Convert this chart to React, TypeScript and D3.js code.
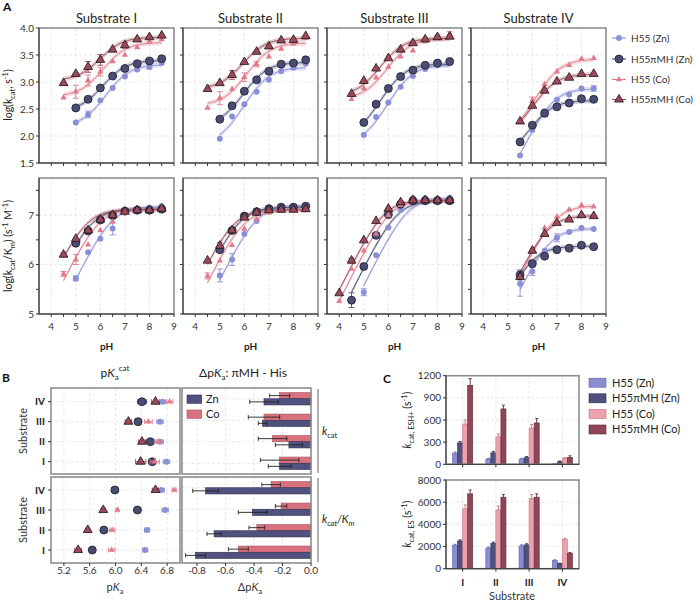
import React from "react";
import * as d3 from "d3";

const substrates = ["I", "II", "III", "IV"];
const seriesNames = ["H55 (Zn)", "H55πMH (Zn)", "H55 (Co)", "H55πMH (Co)"];
const pHs = [4, 4.5, 5, 5.5, 6, 6.5, 7, 7.5, 8, 8.5];
const N = null;

// log(kcat) per substrate, per series, at pHs
const logKcatData = [
  [
    [N, N, 2.25, 2.4, 2.66, 2.89, 3.1, 3.23, 3.28, 3.35],
    [N, N, 2.52, 2.68, 2.89, 3.11, 3.25, 3.34, 3.39, 3.43],
    [N, 2.71, 2.82, 3.03, 3.19, 3.38, 3.5, 3.64, 3.75, 3.79],
    [N, 2.98, 3.15, 3.28, 3.41, 3.6, 3.68, 3.79, 3.83, 3.86],
  ],
  [
    [N, N, 1.95, 2.36, 2.59, 2.82, 3.04, 3.2, 3.27, 3.34],
    [N, N, 2.31, 2.56, 2.83, 3.04, 3.2, 3.33, 3.35, 3.41],
    [N, 2.52, 2.7, 2.87, 3.09, 3.33, 3.47, 3.61, 3.71, 3.81],
    [N, 2.87, 2.98, 3.13, 3.37, 3.56, 3.66, 3.77, 3.78, 3.85],
  ],
  [
    [N, N, 2.02, 2.35, 2.62, 2.91, 3.11, 3.24, 3.31, 3.35],
    [N, N, 2.25, 2.59, 2.88, 3.1, 3.22, 3.31, 3.35, 3.38],
    [N, 2.68, 2.88, 3.08, 3.28, 3.47, 3.58, 3.75, 3.85, 3.89],
    [N, 2.78, 3.02, 3.25, 3.44, 3.6, 3.72, 3.79, 3.83, 3.84],
  ],
  [
    [N, N, N, 1.64, 2.11, 2.46, 2.67, 2.77, 2.88, 2.88],
    [N, N, N, 1.89, 2.2, 2.42, 2.54, 2.61, 2.69, 2.68],
    [N, N, N, 2.27, 2.67, 2.96, 3.19, 3.31, 3.43, 3.44],
    [N, N, N, 2.27, 2.56, 2.84, 3.01, 3.08, 3.15, 3.15],
  ],
];

// log(kcat/Km)
const logKcatKmData = [
  [
    [N, N, 5.72, 6.25, 6.52, 6.73, 7.06, 7.13, 7.15, 7.18],
    [N, N, 6.43, 6.68, 6.9, 6.99, 7.08, 7.1, 7.1, 7.12],
    [N, 5.81, 6.1, 6.4, 6.69, 6.86, 7.04, 7.1, 7.12, 7.15],
    [N, 6.2, 6.52, 6.69, 6.91, 7.0, 7.07, 7.1, 7.1, 7.13],
  ],
  [
    [N, N, 5.78, 6.1, 6.62, 6.88, 7.08, 7.18, 7.17, 7.2],
    [N, N, 6.3, 6.69, 6.98, 7.07, 7.13, 7.16, 7.16, 7.18],
    [N, 5.77, 6.08, 6.39, 6.72, 6.92, 7.05, 7.08, 7.09, 7.1],
    [N, 6.08, 6.38, 6.69, 6.95, 7.05, 7.1, 7.11, 7.11, 7.12],
  ],
  [
    [N, N, 5.44, 6.19, 6.75, 7.11, 7.34, 7.34, 7.33, 7.35],
    [N, 5.28, 5.96, 6.59, 7.01, 7.22, 7.29, 7.29, 7.29, 7.29],
    [5.26, 5.91, 6.28, 6.62, 7.0, 7.2, 7.3, 7.3, 7.3, 7.31],
    [5.42, 6.08, 6.49, 6.88, 7.13, 7.26, 7.3, 7.3, 7.3, 7.3],
  ],
  [
    [N, N, N, 5.61, 5.86, 6.28, 6.54, 6.66, 6.74, 6.72],
    [N, N, N, 5.79, 6.02, 6.17, 6.3, 6.33, 6.39, 6.36],
    [N, N, N, 5.76, 6.3, 6.74, 6.97, 7.11, 7.2, 7.17],
    [N, N, N, 5.75, 6.28, 6.62, 6.84, 6.91, 7.0, 6.98],
  ],
];

// visible error bars in A: [row, substrate, series, pH, err]
const errA = [
  [0, 0, 3, 5.5, 0.1], [0, 0, 3, 6, 0.1], [0, 0, 3, 7, 0.05],
  [0, 0, 2, 5, 0.12], [0, 0, 2, 5.5, 0.1], [0, 0, 2, 6, 0.08],
  [0, 0, 1, 5.5, 0.05], [0, 0, 0, 5.5, 0.06], [0, 0, 0, 8, 0.04],
  [0, 1, 3, 5.5, 0.08], [0, 1, 2, 5, 0.12], [0, 1, 2, 6, 0.08], [0, 1, 2, 6.5, 0.05], [0, 1, 0, 8, 0.04],
  [0, 2, 3, 8, 0.04], [0, 2, 2, 8.5, 0.04],
  [0, 3, 2, 6, 0.05], [0, 3, 1, 6.5, 0.06], [0, 3, 0, 8.5, 0.05],
  [1, 0, 2, 5, 0.1], [1, 0, 3, 4.5, 0.04], [1, 0, 0, 5, 0.05], [1, 0, 0, 6.5, 0.13], [1, 0, 2, 4.5, 0.05],
  [1, 1, 0, 5, 0.13], [1, 1, 0, 5.5, 0.12], [1, 1, 2, 4.5, 0.06], [1, 1, 3, 5, 0.06],
  [1, 2, 3, 4.5, 0.05], [1, 2, 1, 4.5, 0.15], [1, 2, 0, 5, 0.07],
  [1, 3, 0, 5.5, 0.25], [1, 3, 1, 5.5, 0.1], [1, 3, 0, 6, 0.08], [1, 3, 0, 7, 0.08],
];

// B: pKa values [substrate][series]
const pKaCat = [
  [6.79, 6.57, 6.61, 6.39],
  [6.69, 6.54, 6.67, 6.41],
  [6.69, 6.35, 6.51, 6.2],
  [6.73, 6.41, 6.84, 6.62],
];
const pKaCatErr = [
  [0.05, 0.05, 0.07, 0.08],
  [0.05, 0.07, 0.07, 0.05],
  [0.05, 0.05, 0.06, 0.05],
  [0.05, 0.07, 0.05, 0.06],
];
const pKaKm = [
  [6.46, 5.64, 5.94, 5.42],
  [6.49, 5.82, 5.95, 5.57],
  [6.77, 6.34, 6.03, 5.81],
  [6.71, 5.99, 6.91, 6.62],
];
const pKaKmErr = [
  [0.04, 0.03, 0.05, 0.05],
  [0.04, 0.03, 0.04, 0.03],
  [0.05, 0.05, 0.02, 0.03],
  [0.05, 0.05, 0.03, 0.05],
];
// delta pKa (pi-MH minus His), substrates I..IV
const dCatZn = [-0.22, -0.155, -0.34, -0.33];
const dCatZnErr = [0.08, 0.095, 0.03, 0.1];
const dCatCo = [-0.22, -0.27, -0.33, -0.22];
const dCatCoErr = [0.135, 0.1, 0.11, 0.07];
const dKmZn = [-0.81, -0.68, -0.41, -0.74];
const dKmZnErr = [0.07, 0.05, 0.1, 0.09];
const dKmCo = [-0.51, -0.38, -0.21, -0.28];
const dKmCoErr = [0.07, 0.055, 0.04, 0.065];

// C: kcat limits [substrate][series]
const kcatESH = [
  [150, 290, 545, 1070],
  [70, 155, 370, 750],
  [70, 90, 490, 560],
  [5, 35, 80, 95],
];
const kcatESHErr = [
  [15, 20, 55, 90],
  [10, 20, 40, 50],
  [10, 15, 50, 60],
  [5, 10, 10, 20],
];
const kcatES = [
  [2100, 2500, 5400, 6750],
  [1850, 2300, 5300, 6450],
  [2050, 2150, 6350, 6450],
  [750, 450, 2650, 1400],
];
const kcatESErr = [
  [100, 100, 350, 350],
  [100, 100, 350, 250],
  [100, 100, 350, 300],
  [50, 50, 100, 50],
];
// log(kcat/Km) plateau
const kcatKmMax = [
  [7.17, 7.12, 7.13, 7.11],
  [7.19, 7.16, 7.1, 7.11],
  [7.35, 7.29, 7.3, 7.3],
  [6.73, 6.37, 7.19, 6.99],
];

const phTicks = [4, 4.5, 5, 5.5, 6, 6.5, 7, 7.5, 8, 8.5, 9];
const phLabels = [4, 5, 6, 7, 8, 9];
const kcatTicks = [1.5, 2, 2.5, 3, 3.5, 4];
const kmTicks = [5, 5.5, 6, 6.5, 7, 7.5];
const kmLabels = [5, 6, 7];
const pKaTicks = [5.2, 5.6, 6.0, 6.4, 6.8];
const dTicks = [-0.8, -0.6, -0.4, -0.2, 0.0];
const eshTicks = [0, 300, 600, 900, 1200];
const esTicks = [0, 2000, 4000, 6000, 8000];

const colors = ["#8a90d6", "#4b4c72", "#e07a89", "#9b4a5b"];
const mStroke = ["none", "#1c1c2e", "none", "#1e1214"];
const barFill = ["#8a8ed0", "#50517f", "#eca2ac", "#8f4657"];
const barStroke = ["#5d61a8", "#2d2e50", "#c8707e", "#5c2834"];
const symPaths = [
  d3.symbol().type(d3.symbolCircle).size(28)(),
  d3.symbol().type(d3.symbolCircle).size(50)(),
  d3.symbol().type(d3.symbolTriangle).size(17)(),
  d3.symbol().type(d3.symbolTriangle).size(34)(),
];

const FONT = "Lato, 'Open Sans', sans-serif";
const frameColor = "#8e8e8e";
const gridColor = "#e2e2e2";
const axisColor = "#333";
const colX = [39, 183, 327, 471];
const panelW = 135;

function Marker({ s, x, y }: { s: number; x: number; y: number }) {
  return (
    <path
      d={symPaths[s] as string}
      transform={`translate(${x},${y})`}
      fill={colors[s]}
      stroke={mStroke[s]}
      strokeWidth={0.8}
    />
  );
}

function PanelA({ col, row }: { col: number; row: number }) {
  const x0 = colX[col];
  const x = d3.scaleLinear().domain([3.5, 9]).range([x0, x0 + panelW]);
  const y =
    row === 0
      ? d3.scaleLinear().domain([1.5, 4]).range([163, 28])
      : d3.scaleLinear().domain([5, 7.75]).range([314, 178]);
  const [yb, yt] = y.range();
  const data = row === 0 ? logKcatData[col] : logKcatKmData[col];
  const fit = (s: number, ph: number) => {
    if (row === 0) {
      const pk = pKaCat[col][s];
      const r = Math.pow(10, pk - ph);
      return Math.log10((kcatES[col][s] + kcatESH[col][s] * r) / (1 + r));
    }
    const pk = pKaKm[col][s];
    return kcatKmMax[col][s] - Math.log10(1 + Math.pow(10, pk - ph));
  };
  const yTicks = row === 0 ? kcatTicks : kmTicks;
  const yLabels = row === 0 ? kcatTicks : kmLabels;
  const yGrid = row === 0 ? [2, 2.5, 3, 3.5] : [6, 7];
  const band = 0.045;
  const curves = [0, 1, 2, 3].map((s) => {
    const first = data[s].findIndex((v) => v !== null);
    const samples = d3.range(pHs[first], 8.5001, 0.05);
    const line = d3
      .line<number>()
      .x((p) => x(p))
      .y((p) => y(fit(s, p)))(samples);
    const area = d3
      .area<number>()
      .x((p) => x(p))
      .y0((p) => y(fit(s, p) - band))
      .y1((p) => y(fit(s, p) + band))(samples);
    return { line, area };
  });
  const errs = errA.filter((e) => e[0] === row && e[1] === col);
  return (
    <g>
      {phLabels.slice(0, 5).map((p) => (
        <line key={"gx" + p} x1={x(p)} x2={x(p)} y1={yt} y2={yb} stroke={gridColor} strokeDasharray="3,2" strokeWidth={0.8} />
      ))}
      {yGrid.map((v) => (
        <line key={"gy" + v} x1={x0} x2={x0 + panelW} y1={y(v)} y2={y(v)} stroke={gridColor} strokeDasharray="3,2" strokeWidth={0.8} />
      ))}
      {curves.map((c, s) => (
        <path key={"a" + s} d={c.area as string} fill={colors[s]} opacity={0.25} />
      ))}
      {curves.map((c, s) => (
        <path key={"l" + s} d={c.line as string} fill="none" stroke={colors[s]} strokeWidth={1} />
      ))}
      {errs.map((e, i) => {
        const s = e[2];
        const v = data[s][pHs.indexOf(e[3])] as number;
        const px = x(e[3]);
        return (
          <g key={"e" + i} stroke={colors[s]} strokeWidth={0.9}>
            <line x1={px} x2={px} y1={y(v - e[4])} y2={y(v + e[4])} />
            <line x1={px - 3} x2={px + 3} y1={y(v - e[4])} y2={y(v - e[4])} />
            <line x1={px - 3} x2={px + 3} y1={y(v + e[4])} y2={y(v + e[4])} />
          </g>
        );
      })}
      {[0, 1, 2, 3].map((s) =>
        data[s].map((v, i) =>
          v === null ? null : <Marker key={s + "-" + i} s={s} x={x(pHs[i])} y={y(v)} />
        )
      )}
      <rect x={x0} y={yt} width={panelW} height={yb - yt} fill="none" stroke={frameColor} strokeWidth={1.6} />
      <line x1={x0} x2={x0} y1={yt} y2={yb} stroke={axisColor} strokeWidth={1} />
      <line x1={x0} x2={x0 + panelW} y1={yb} y2={yb} stroke={axisColor} strokeWidth={1} />
      {phTicks.map((p) => (
        <line key={"tx" + p} x1={x(p)} x2={x(p)} y1={yb} y2={yb + 3} stroke={axisColor} />
      ))}
      {yTicks.map((v) => (
        <line key={"ty" + v} x1={x0 - 3} x2={x0} y1={y(v)} y2={y(v)} stroke={axisColor} />
      ))}
      {col === 0 &&
        yLabels.map((v) => (
          <text key={"yl" + v} x={x0 - 5} y={y(v)} dy="0.35em" textAnchor="end" fontSize={10} fill="#333">
            {row === 0 ? d3.format(".1f")(v) : v}
          </text>
        ))}
      {row === 1 &&
        phLabels.map((p) => (
          <text key={"xl" + p} x={x(p)} y={330} textAnchor="middle" fontSize={10} fill="#333">
            {p}
          </text>
        ))}
      {row === 1 && (
        <text x={x0 + panelW / 2} y={350} textAnchor="middle" fontSize={10} fontWeight="bold" fill="#222">
          pH
        </text>
      )}
      {row === 0 && (
        <text x={x0 + panelW / 2} y={23} textAnchor="middle" fontSize={13} fill="#222">
          Substrate {substrates[col]}
        </text>
      )}
    </g>
  );
}

function PanelBLeft() {
  const x = d3.scaleLinear().domain([5.0, 7.0]).range([51, 180]);
  const cats = ["IV", "III", "II", "I"];
  const panels = [
    { vals: pKaCat, err: pKaCatErr, y: d3.scalePoint().domain(cats).range([401.7, 461.7]), top: 388, bot: 474 },
    { vals: pKaKm, err: pKaKmErr, y: d3.scalePoint().domain(cats).range([490, 550]), top: 477, bot: 563 },
  ];
  return (
    <g>
      {panels.map((p, pi) => (
        <g key={pi}>
          {pKaTicks.map((t) => (
            <line key={"g" + t} x1={x(t)} x2={x(t)} y1={p.top} y2={p.bot} stroke={gridColor} strokeDasharray="3,2" strokeWidth={0.8} />
          ))}
          {cats.map((c) => (
            <line key={"h" + c} x1={51} x2={180} y1={p.y(c)} y2={p.y(c)} stroke={gridColor} strokeDasharray="3,2" strokeWidth={0.8} />
          ))}
          {substrates.map((sub, si) =>
            [0, 1, 2, 3].map((s) => {
              const v = p.vals[si][s];
              const e = p.err[si][s];
              const cy = p.y(sub) as number;
              return (
                <g key={sub + s}>
                  <g stroke={colors[s]} strokeWidth={0.9}>
                    <line x1={x(v - e)} x2={x(v + e)} y1={cy} y2={cy} />
                    <line x1={x(v - e)} x2={x(v - e)} y1={cy - 2.5} y2={cy + 2.5} />
                    <line x1={x(v + e)} x2={x(v + e)} y1={cy - 2.5} y2={cy + 2.5} />
                  </g>
                  <Marker s={s} x={x(v)} y={cy} />
                </g>
              );
            })
          )}
          <rect x={51} y={p.top} width={129} height={p.bot - p.top} fill="none" stroke={frameColor} strokeWidth={1.6} />
          {cats.map((c) => (
            <g key={"c" + c}>
              <line x1={48} x2={51} y1={p.y(c)} y2={p.y(c)} stroke={axisColor} />
              <text x={45} y={p.y(c)} dy="0.35em" textAnchor="end" fontSize={10} fontWeight="bold" fill="#222">
                {c}
              </text>
            </g>
          ))}
          <text transform={`translate(27,${(p.top + p.bot) / 2}) rotate(-90)`} textAnchor="middle" fontSize={11} fill="#333">
            Substrate
          </text>
        </g>
      ))}
      {pKaTicks.map((t) => (
        <g key={"xt" + t}>
          <line x1={x(t)} x2={x(t)} y1={563} y2={566} stroke={axisColor} />
          <text x={x(t)} y={574} textAnchor="middle" fontSize={10} fill="#333">
            {d3.format(".1f")(t)}
          </text>
        </g>
      ))}
      <text x={115} y={377} textAnchor="middle" fontSize={12} fill="#222">
        p<tspan fontStyle="italic">K</tspan>
        <tspan fontSize={8} dy={3}>a</tspan>
        <tspan fontSize={8} dy={-9}>cat</tspan>
      </text>
      <text x={115} y={591} textAnchor="middle" fontSize={11} fill="#333">
        p<tspan fontStyle="italic">K</tspan>
        <tspan fontSize={8} dy={3}>a</tspan>
      </text>
    </g>
  );
}

function PanelBRight() {
  const x = d3.scaleLinear().domain([-0.8, 0]).range([197, 311]);
  const cats = ["IV", "III", "II", "I"];
  const panels = [
    { zn: dCatZn, znE: dCatZnErr, co: dCatCo, coE: dCatCoErr, top: 388, bot: 474 },
    { zn: dKmZn, znE: dKmZnErr, co: dKmCo, coE: dKmCoErr, top: 477, bot: 563 },
  ];
  const bh = 6.2;
  return (
    <g>
      {panels.map((p, pi) => {
        const y = d3.scaleBand().domain(cats).range([p.top, p.bot]);
        return (
          <g key={pi}>
            {dTicks.slice(0, 4).map((t) => (
              <line key={"g" + t} x1={x(t)} x2={x(t)} y1={p.top} y2={p.bot} stroke={gridColor} strokeDasharray="3,2" strokeWidth={0.8} />
            ))}
            {cats.map((c) => (
              <line key={"h" + c} x1={182} x2={311} y1={(y(c) as number) + y.bandwidth() / 2} y2={(y(c) as number) + y.bandwidth() / 2} stroke={gridColor} strokeDasharray="3,2" strokeWidth={0.8} />
            ))}
            {substrates.map((sub, si) => {
              const cy = (y(sub) as number) + y.bandwidth() / 2;
              const bars = [
                { v: p.co[si], e: p.coE[si], yy: cy - bh, fill: "#d9717f", stroke: "#a4505c" },
                { v: p.zn[si], e: p.znE[si], yy: cy, fill: "#50517f", stroke: "#2d2e50" },
              ];
              return bars.map((b, bi) => (
                <g key={sub + bi}>
                  <rect x={x(b.v)} y={b.yy} width={x(0) - x(b.v)} height={bh} fill={b.fill} stroke={b.stroke} strokeWidth={0.6} />
                  <g stroke="#222" strokeWidth={0.9}>
                    <line x1={x(b.v - b.e)} x2={x(b.v + b.e)} y1={b.yy + bh / 2} y2={b.yy + bh / 2} />
                    <line x1={x(b.v - b.e)} x2={x(b.v - b.e)} y1={b.yy + 1} y2={b.yy + bh - 1} />
                    <line x1={x(b.v + b.e)} x2={x(b.v + b.e)} y1={b.yy + 1} y2={b.yy + bh - 1} />
                  </g>
                </g>
              ));
            })}
            <rect x={182} y={p.top} width={129} height={p.bot - p.top} fill="none" stroke={frameColor} strokeWidth={1.6} />
            <line x1={318} x2={318} y1={p.top + 1} y2={p.bot - 1} stroke={frameColor} strokeWidth={1.4} />
          </g>
        );
      })}
      {dTicks.map((t) => (
        <g key={"xt" + t}>
          <line x1={x(t)} x2={x(t)} y1={563} y2={566} stroke={axisColor} />
          <text x={x(t)} y={574} textAnchor="middle" fontSize={10} fill="#333">
            {d3.format(".1f")(t).replace("−", "-")}
          </text>
        </g>
      ))}
      <rect x={187} y={395} width={14.7} height={8.3} fill="#50517f" stroke="#2d2e50" strokeWidth={0.6} />
      <text x={206} y={402.5} fontSize={11} fill="#222">Zn</text>
      <rect x={187} y={410} width={14.7} height={8.3} fill="#d9717f" stroke="#a4505c" strokeWidth={0.6} />
      <text x={206} y={417.5} fontSize={11} fill="#222">Co</text>
      <text x={243} y={377} textAnchor="middle" fontSize={12} fill="#222">
        Δp<tspan fontStyle="italic">K</tspan>
        <tspan fontSize={8} dy={3}>a</tspan>
        <tspan dy={-3}>: πMH - His</tspan>
      </text>
      <text x={250} y={591} textAnchor="middle" fontSize={11} fill="#333">
        Δp<tspan fontStyle="italic">K</tspan>
        <tspan fontSize={8} dy={3}>a</tspan>
      </text>
      <text x={322} y={435} fontSize={11} fill="#222">
        <tspan fontStyle="italic">k</tspan>
        <tspan fontSize={7.5} dy={3}>cat</tspan>
      </text>
      <text x={322} y={523} fontSize={11} fill="#222">
        <tspan fontStyle="italic">k</tspan>
        <tspan fontSize={7.5} dy={3} fontStyle="italic">cat</tspan>
        <tspan dy={-3} fontStyle="italic">/K</tspan>
        <tspan fontSize={7.5} dy={3} fontStyle="italic">m</tspan>
      </text>
    </g>
  );
}

function PanelC() {
  const x = d3.scaleBand().domain(substrates).range([446, 579]);
  const xs = d3.scaleBand<number>().domain([0, 1, 2, 3]).range([0, x.bandwidth()]).paddingOuter(1.3);
  const panels = [
    { vals: kcatESH, err: kcatESHErr, ticks: eshTicks, y: d3.scaleLinear().domain([0, 1200]).range([464.3, 375.7]) },
    { vals: kcatES, err: kcatESErr, ticks: esTicks, y: d3.scaleLinear().domain([0, 8000]).range([568.7, 480]) },
  ];
  return (
    <g>
      {panels.map((p, pi) => {
        const [yb, yt] = p.y.range();
        return (
          <g key={pi}>
            {p.ticks.slice(1, -1).map((t) => (
              <line key={"g" + t} x1={446} x2={579} y1={p.y(t)} y2={p.y(t)} stroke={gridColor} strokeDasharray="3,2" strokeWidth={0.8} />
            ))}
            {substrates.map((c) => (
              <line key={"v" + c} x1={(x(c) as number) + x.bandwidth() / 2} x2={(x(c) as number) + x.bandwidth() / 2} y1={yt} y2={yb} stroke={gridColor} strokeDasharray="3,2" strokeWidth={0.8} />
            ))}
            {substrates.map((sub, si) =>
              [0, 1, 2, 3].map((s) => {
                const v = p.vals[si][s];
                const e = p.err[si][s];
                const bx = (x(sub) as number) + (xs(s) as number);
                const cx = bx + xs.bandwidth() / 2;
                return (
                  <g key={sub + s}>
                    <rect x={bx} y={p.y(v)} width={xs.bandwidth()} height={yb - p.y(v)} fill={barFill[s]} stroke={barStroke[s]} strokeWidth={0.6} />
                    <g stroke={barStroke[s]} strokeWidth={0.9}>
                      <line x1={cx} x2={cx} y1={p.y(v)} y2={p.y(v + e)} />
                      <line x1={cx - 1.5} x2={cx + 1.5} y1={p.y(v + e)} y2={p.y(v + e)} />
                    </g>
                  </g>
                );
              })
            )}
            <rect x={446} y={yt} width={133} height={yb - yt} fill="none" stroke={frameColor} strokeWidth={1.6} />
            <line x1={446} x2={446} y1={yt} y2={yb} stroke={axisColor} />
            <line x1={446} x2={579} y1={yb} y2={yb} stroke={axisColor} />
            {p.ticks.map((t) => (
              <g key={"t" + t}>
                <line x1={443} x2={446} y1={p.y(t)} y2={p.y(t)} stroke={axisColor} />
                <text x={441} y={p.y(t)} dy="0.35em" textAnchor="end" fontSize={10} fill="#333">
                  {t}
                </text>
              </g>
            ))}
            {substrates.map((c) => (
              <line key={"xt" + c} x1={(x(c) as number) + x.bandwidth() / 2} x2={(x(c) as number) + x.bandwidth() / 2} y1={yb} y2={yb + 3} stroke={axisColor} />
            ))}
          </g>
        );
      })}
      {substrates.map((c) => (
        <text key={"xl" + c} x={(x(c) as number) + x.bandwidth() / 2} y={586} textAnchor="middle" fontSize={10} fontWeight="bold" fill="#222">
          {c}
        </text>
      ))}
      <text x={512} y={600} textAnchor="middle" fontSize={11} fill="#333">
        Substrate
      </text>
      <text transform="translate(411,420) rotate(-90)" textAnchor="middle" fontSize={10.5} fill="#222">
        <tspan fontStyle="italic">k</tspan>
        <tspan fontSize={7.5} dy={3}>cat, ESH+</tspan>
        <tspan dy={-3}> (s</tspan>
        <tspan fontSize={7.5} dy={-4}>-1</tspan>
        <tspan dy={4}>)</tspan>
      </text>
      <text transform="translate(411,524) rotate(-90)" textAnchor="middle" fontSize={10.5} fill="#222">
        <tspan fontStyle="italic">k</tspan>
        <tspan fontSize={7.5} dy={3}>cat, ES</tspan>
        <tspan dy={-3}> (s</tspan>
        <tspan fontSize={7.5} dy={-4}>-1</tspan>
        <tspan dy={4}>)</tspan>
      </text>
      {seriesNames.map((n, s) => {
        const cy = 382.7 + s * 15.6;
        return (
          <g key={n}>
            <rect x={589} y={cy - 4.5} width={17} height={9} fill={barFill[s]} stroke={barStroke[s]} strokeWidth={0.6} />
            <text x={612} y={cy} dy="0.35em" fontSize={11} fill="#222">
              {n}
            </text>
          </g>
        );
      })}
    </g>
  );
}

export default function App() {
  return (
    <svg
      width={695}
      height={604}
      style={{ position: "absolute", left: 0, top: 0, background: "#fff" }}
      fontFamily={FONT}
    >
      <text x={3} y={11} fontSize={12} fontWeight="bold" fill="#111">A</text>
      <text x={2} y={382} fontSize={12} fontWeight="bold" fill="#111">B</text>
      <text x={383} y={383} fontSize={12} fontWeight="bold" fill="#111">C</text>
      {[0, 1].map((row) => [0, 1, 2, 3].map((col) => <PanelA key={row + "-" + col} row={row} col={col} />))}
      <text transform="translate(12,95) rotate(-90)" textAnchor="middle" fontSize={10.5} fill="#222">
        log(k<tspan fontSize={7.5} dy={3}>cat</tspan>
        <tspan dy={-3}>, s</tspan>
        <tspan fontSize={7.5} dy={-4}>-1</tspan>
        <tspan dy={4}>)</tspan>
      </text>
      <text transform="translate(12,246) rotate(-90)" textAnchor="middle" fontSize={10.5} fill="#222">
        log(k<tspan fontSize={7.5} dy={3}>cat</tspan>
        <tspan dy={-3}>/K</tspan>
        <tspan fontSize={7.5} dy={3}>m</tspan>
        <tspan dy={-3}>) (s</tspan>
        <tspan fontSize={7.5} dy={-4}>-1</tspan>
        <tspan dy={4}> M</tspan>
        <tspan fontSize={7.5} dy={-4}>-1</tspan>
        <tspan dy={4}>)</tspan>
      </text>
      {seriesNames.map((n, s) => {
        const cy = [38, 59, 79.5, 99.5][s];
        return (
          <g key={n}>
            <line x1={612} x2={626} y1={cy} y2={cy} stroke={colors[s]} strokeWidth={1.1} />
            <Marker s={s} x={619} y={cy} />
            <text x={631} y={cy} dy="0.35em" fontSize={10} fill="#333">
              {n}
            </text>
          </g>
        );
      })}
      <PanelBLeft />
      <PanelBRight />
      <PanelC />
    </svg>
  );
}
